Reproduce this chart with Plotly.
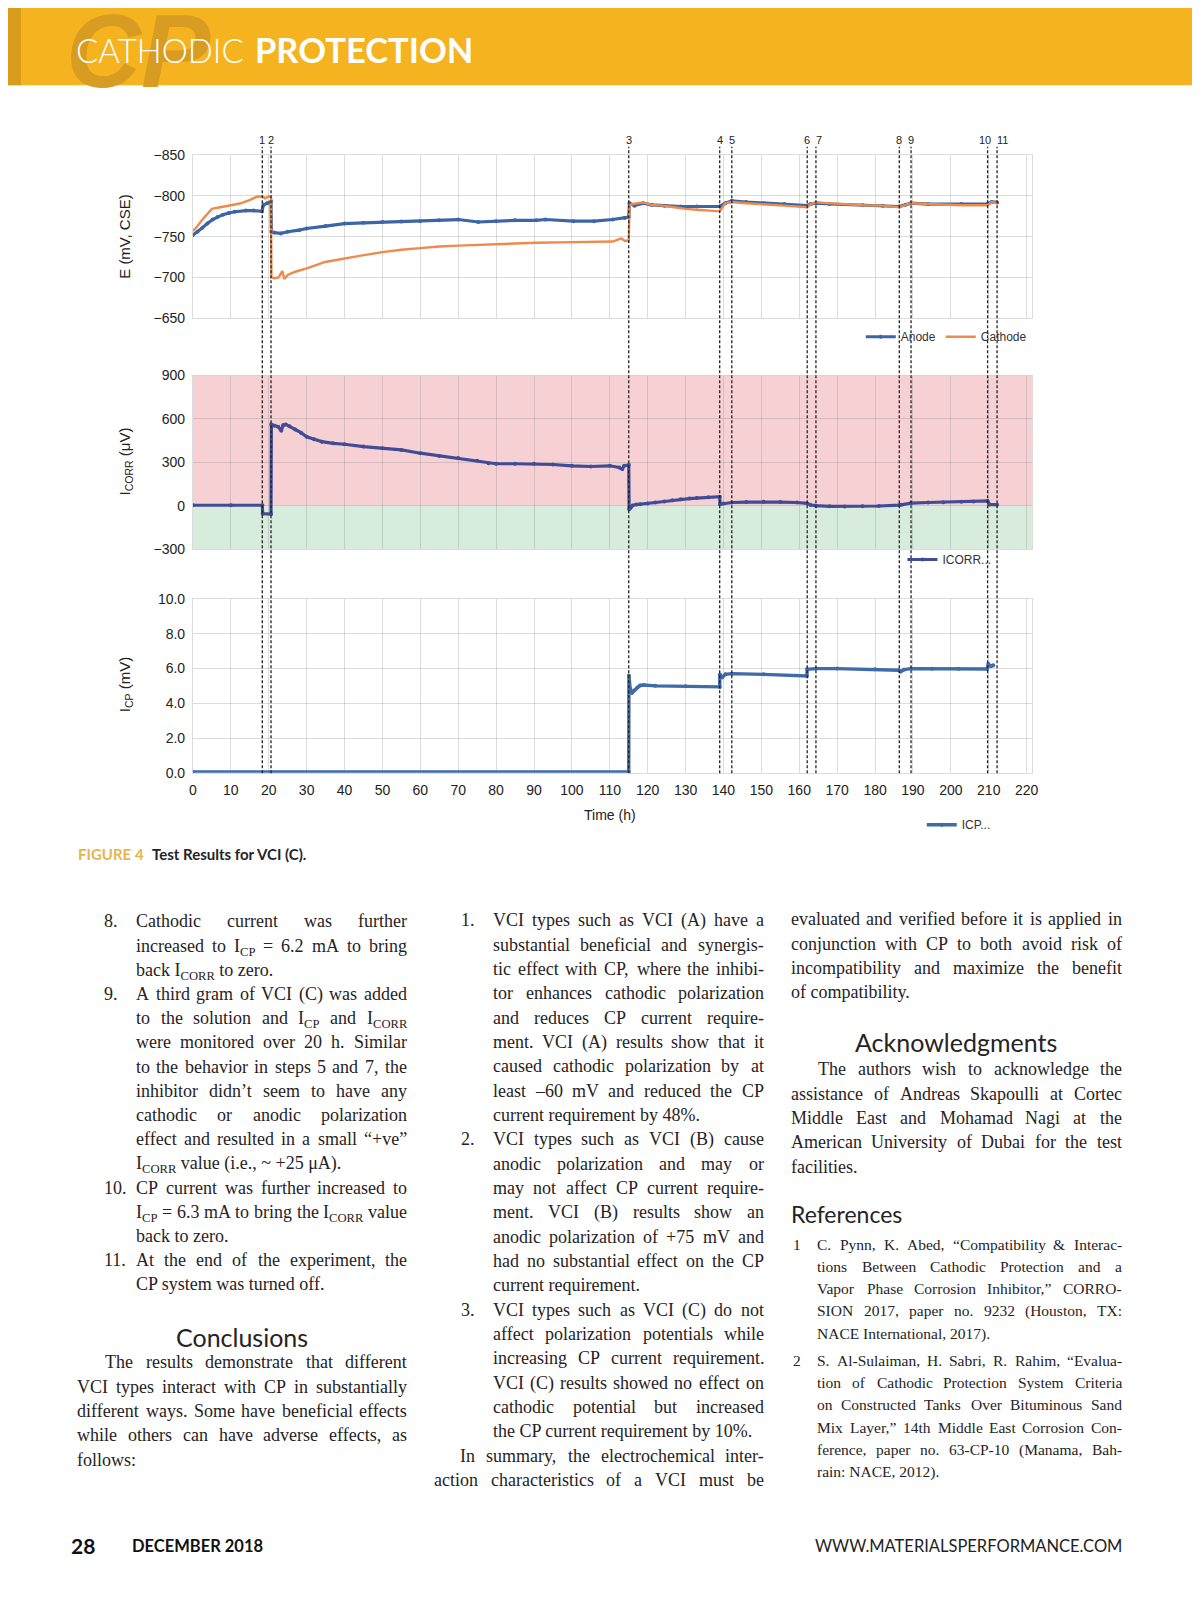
import plotly.graph_objects as go

# Page is 1200x1606; the browser adds an 8px body margin on every side,
# so the figure itself is 1184x1590 and all page coordinates are shifted by 8px.
PAGE_W, PAGE_H = 1200, 1606
OFF = 8
FW, FH = PAGE_W - 2 * OFF, PAGE_H - 2 * OFF

# ---------------- chart data ----------------
EVENT_T = [18.3, 20.6, 115.0, 139.0, 142.2, 162.1, 164.4, 186.4, 189.5, 209.7, 212.2]
EVENT_LABELS = ["1", "2", "3", "4", "5", "6", "7", "8", "9", "10", "11"]

T_ANODE = [0, 1.2, 2.5, 3.8, 5.2, 6.5, 7.9, 9.5, 11, 14, 16, 18.2, 18.6, 19.6, 20.6, 20.7, 21.4, 23.2, 25, 28,
           30, 35, 40, 45, 50, 55, 60, 65, 70, 75.3, 80, 85, 90.6, 93, 100.4, 105.8, 110.8, 113.9, 115.0, 115.2,
           116.5, 118.8, 121, 124.4, 128.7, 133, 139.0, 140.5, 142.2, 146, 150.6, 156, 162.1, 163, 164.4, 168,
           176.7, 182, 186.4, 188, 189.5, 194, 202.8, 209.7, 210.8, 212.2]
E_ANODE = [-752, -756, -761, -766, -771, -774, -777, -779, -780.5, -782, -782, -781, -789, -791, -793, -756, -755,
           -754, -756, -758, -760, -763, -766, -767, -768, -768.5, -769, -770, -771, -768, -769, -770, -770, -771,
           -769, -769, -771, -773, -774, -791, -788, -791, -789, -788, -787, -787, -787, -791, -794, -792.5, -791,
           -790, -788, -790, -791, -790, -788.5, -788, -787, -789, -791, -790, -790, -790, -792.5, -792]

T_CATHODE = [0, 1.2, 2.5, 3.8, 5, 6.5, 7.9, 10, 12.4, 15.1, 16.9, 18.3, 19, 19.8, 20.6, 20.7, 21.5, 22.6, 23.6,
             24.1, 25, 27, 30, 34.9, 40, 44.7, 50, 55, 60, 65, 70, 80, 90.6, 100.4, 110.8, 113, 113.9, 115.0,
             115.2, 116, 118.8, 121, 124, 127, 130, 133, 136, 139.0, 140.5, 142.2, 146, 150.6, 156, 162.1, 163,
             164.4, 168, 176.7, 182, 186.4, 188, 189.5, 194, 202.8, 209.7, 210.8, 212.2]
E_CATHODE = [-757, -763, -771, -778, -784, -785.5, -786.6, -788.5, -790.6, -795, -799, -799.5, -797, -799, -799.5,
             -700, -699, -700, -708, -698, -703, -707, -711, -719, -723.5, -727, -731, -734, -736, -738, -739,
             -741, -742.5, -743.3, -744, -748, -745, -745, -788, -790, -792, -789, -788, -786, -784, -783, -782,
             -781, -791, -792.5, -791, -790, -788, -786, -790, -792, -791, -788.5, -788, -786, -789, -791, -790,
             -788.5, -788.5, -792.5, -791]

T_ICORR = [0, 10, 18.3, 18.4, 20.6, 20.7, 21.5, 22.5, 23.3, 23.8, 24.5, 25.5, 27, 28.5, 30, 32, 34, 37, 40, 45,
           50, 55, 60, 65, 70, 75, 78, 80, 85, 90, 95, 100, 105, 110, 112.5, 113.3, 113.8, 115.0, 115.1, 115.5,
           116, 117, 118, 120, 122, 124.4, 126.5, 128.7, 131, 133, 136, 139.0, 139.1, 140, 142.2, 146, 150.6, 155,
           159.4, 162.1, 163, 164.4, 168, 172, 176.7, 181, 186.4, 187, 189.5, 194, 198, 202.8, 206, 209.7, 210.2,
           212.2]
V_ICORR = [3, 3, 3, -55, -58, 562, 553, 546, 518, 557, 562, 550, 527, 505, 477, 459, 443, 431, 425, 409,
           397, 386, 363, 344, 329, 310, 294, 290, 290, 290, 285, 276, 271, 276, 264, 253, 276, 281, -25, -15,
           2, 8, 10, 15, 22, 29, 37, 44, 49, 53, 58, 62, 10, 15, 22, 25, 27, 25, 22, 16,
           5, 0, -4, -5, -4, -2, 4, 6, 18, 22, 24, 27, 29, 33, 8, 7]

T_ICP = [0, 115.0, 115.05, 115.4, 115.9, 116.5, 117.3, 118, 119, 122, 130, 139.0, 139.05, 139.7, 140.5, 142.2,
         150.6, 162.0, 162.1, 164.4, 170, 180, 186.2, 186.8, 187.6, 189.5, 195, 202, 209.6, 209.9, 210.6, 211.2]
V_ICP = [0.05, 0.05, 5.6, 4.8, 4.6, 4.75, 4.9, 5.02, 5.05, 5.0, 4.97, 4.94, 5.65, 5.5, 5.66, 5.7,
         5.66, 5.57, 5.95, 5.99, 5.99, 5.96, 5.9, 5.82, 5.93, 5.99, 5.98, 5.98, 5.97, 6.25, 6.12, 6.18]

X_TICKS = list(range(0, 221, 10))
E_TICKS = [-850, -800, -750, -700, -650]
ICORR_TICKS = [900, 600, 300, 0, -300]
ICP_TICKS = [10, 8, 6, 4, 2, 0]
BAND_POS = [0, 900]
BAND_NEG = [-300, 0]

# ---------------- page text ----------------
HEADER_LIGHT = "CATHODIC"
HEADER_BOLD = "PROTECTION"
HEADER_MARK = "CP"
CAPTION_LABEL = "FIGURE 4"
CAPTION_TEXT = "Test Results for VCI (C)."

COL1_ITEMS = [
    ("8.", ["Cathodic current was further",
            "increased to I<sub>CP</sub> = 6.2 mA to bring",
            "back I<sub>CORR</sub> to zero."]),
    ("9.", ["A third gram of VCI (C) was added",
            "to the solution and I<sub>CP</sub> and I<sub>CORR</sub>",
            "were monitored over 20 h. Similar",
            "to the behavior in steps 5 and 7, the",
            "inhibitor didn’t seem to have any",
            "cathodic or anodic polarization",
            "effect and resulted in a small “+ve”",
            "I<sub>CORR</sub> value (i.e., ~ +25 μA)."]),
    ("10.", ["CP current was further increased to",
             "I<sub>CP</sub> = 6.3 mA to bring the I<sub>CORR</sub> value",
             "back to zero."]),
    ("11.", ["At the end of the experiment, the",
             "CP system was turned off."]),
]
CONCLUSIONS_TITLE = "Conclusions"
CONCLUSIONS_PARA = ["The results demonstrate that different",
                    "VCI types interact with CP in substantially",
                    "different ways. Some have beneficial effects",
                    "while others can have adverse effects, as",
                    "follows:"]
COL2_ITEMS = [
    ("1.", ["VCI types such as VCI (A) have a",
            "substantial beneficial and synergis-",
            "tic effect with CP, where the inhibi-",
            "tor enhances cathodic polarization",
            "and reduces CP current require-",
            "ment. VCI (A) results show that it",
            "caused cathodic polarization by at",
            "least –60 mV and reduced the CP",
            "current requirement by 48%."]),
    ("2.", ["VCI types such as VCI (B) cause",
            "anodic polarization and may or",
            "may not affect CP current require-",
            "ment. VCI (B) results show an",
            "anodic polarization of +75 mV and",
            "had no substantial effect on the CP",
            "current requirement."]),
    ("3.", ["VCI types such as VCI (C) do not",
            "affect polarization potentials while",
            "increasing CP current requirement.",
            "VCI (C) results showed no effect on",
            "cathodic potential but increased",
            "the CP current requirement by 10%."]),
]
SUMMARY_COL2 = ["In summary, the electrochemical inter-",
                "action characteristics of a VCI must be"]
SUMMARY_COL3 = ["evaluated and verified before it is applied in",
                "conjunction with CP to both avoid risk of",
                "incompatibility and maximize the benefit",
                "of compatibility."]
ACK_TITLE = "Acknowledgments"
ACK_PARA = ["The authors wish to acknowledge the",
            "assistance of Andreas Skapoulli at Cortec",
            "Middle East and Mohamad Nagi at the",
            "American University of Dubai for the test",
            "facilities."]
REF_TITLE = "References"
REFS = [
    ("1", ["C. Pynn, K. Abed, “Compatibility & Interac-",
           "tions Between Cathodic Protection and a",
           "Vapor Phase Corrosion Inhibitor,” CORRO-",
           "SION 2017, paper no. 9232 (Houston, TX:",
           "NACE International, 2017)."]),
    ("2", ["S. Al-Sulaiman, H. Sabri, R. Rahim, “Evalua-",
           "tion of Cathodic Protection System Criteria",
           "on Constructed Tanks Over Bituminous Sand",
           "Mix Layer,” 14th Middle East Corrosion Con-",
           "ference, paper no. 63-CP-10 (Manama, Bah-",
           "rain: NACE, 2012)."]),
]
FOOT_PAGE = "28"
FOOT_DATE = "DECEMBER 2018"
FOOT_URL = "WWW.MATERIALSPERFORMANCE.COM"

# ---------------- helpers ----------------
def fx(px):
    return (px - OFF) / FW


def fy(py):
    return 1 - (py - OFF) / FH


SERIF = "Liberation Serif, Times New Roman, serif"
SANS = "Lato, Open Sans, sans-serif"
CSANS = "Liberation Sans, Arial, sans-serif"
INK = "#262324"

TW = {' ': 250, '.': 250, ',': 250, ':': 278, ';': 278, '-': 333, '–': 500, '(': 333, ')': 333,
      '“': 444, '”': 444, '’': 333, '%': 833, '=': 564, '+': 564, '~': 541, 'μ': 500, '&': 778,
      'A': 722, 'B': 667, 'C': 667, 'D': 722, 'E': 611, 'F': 556, 'G': 722, 'H': 722, 'I': 333,
      'J': 389, 'K': 722, 'L': 611, 'M': 889, 'N': 722, 'O': 722, 'P': 556, 'Q': 722, 'R': 667,
      'S': 556, 'T': 611, 'U': 722, 'V': 722, 'W': 944, 'X': 722, 'Y': 722, 'Z': 611,
      'a': 444, 'b': 500, 'c': 444, 'd': 500, 'e': 444, 'f': 333, 'g': 500, 'h': 500, 'i': 278,
      'j': 278, 'k': 500, 'l': 278, 'm': 778, 'n': 500, 'o': 500, 'p': 500, 'q': 500, 'r': 333,
      's': 389, 't': 278, 'u': 500, 'v': 500, 'w': 722, 'x': 500, 'y': 500, 'z': 444}


def text_width(s, size):
    total, scale, i = 0.0, 1.0, 0
    while i < len(s):
        if s.startswith('<sub>', i):
            scale = 0.7
            i += 5
            continue
        if s.startswith('</sub>', i):
            scale = 1.0
            i += 6
            continue
        total += TW.get(s[i], 500) * scale
        i += 1
    return total * size / 1000.0


annotations = []


def put(text, xpx, ypx, size, family=SERIF, color=INK, xanchor="left", yanchor="middle", weight=None, **kw):
    f = dict(family=family, size=size, color=color)
    if weight is not None:
        f["weight"] = weight
    d = dict(text=text, x=fx(xpx), y=fy(ypx), xref="paper", yref="paper", showarrow=False,
             xanchor=xanchor, yanchor=yanchor, font=f, borderpad=0, borderwidth=0)
    d.update(kw)
    annotations.append(d)


def body_line(text, x_left, x_right, yc, size, justify):
    top = yc + 0.33 * size - 0.891 * size
    if not justify:
        put(text, x_left, top, size, yanchor="top")
        return
    words = text.split(' ')
    widths = [text_width(w, size) for w in words]
    if len(words) > 1:
        gap = (x_right - x_left - sum(widths)) / (len(words) - 1)
        gap = max(gap, 0.2 * size)
    else:
        gap = 0
    x = x_left
    for w, wd in zip(words, widths):
        put(w, x, top, size, yanchor="top")
        x += wd + gap


def numbered(items, col_left, col_right, num_dx, text_dx, y0, step, size, start=0):
    k = start
    for num, lines in items:
        yc = y0 + k * step
        put(num, col_left + num_dx, yc + 0.33 * size - 0.891 * size, size, yanchor="top")
        for j, ln in enumerate(lines):
            yc = y0 + k * step
            body_line(ln, col_left + text_dx, col_right, yc, size, j < len(lines) - 1)
            k += 1
    return k


def paragraph(lines, col_left, col_right, indent, y0, step, size, last_justified=False, start=0):
    k = start
    for j, ln in enumerate(lines):
        yc = y0 + k * step
        left = col_left + (indent if j == 0 else 0)
        just = (j < len(lines) - 1) or last_justified
        body_line(ln, left, col_right, yc, size, just)
        k += 1
    return k


# ---------------- figure ----------------
ANODE_C = "#3d65a6"
CATHODE_C = "#ec8b4c"
ICORR_C = "#404d96"
ICP_C = "#3f6bab"
GRID = "rgba(140,140,140,0.30)"

fig = go.Figure()
fig.add_trace(go.Scatter(x=T_ANODE, y=E_ANODE, name="Anode", mode="lines+markers",
                         line=dict(color=ANODE_C, width=3.2), marker=dict(size=4, color=ANODE_C),
                         xaxis="x", yaxis="y", legend="legend"))
fig.add_trace(go.Scatter(x=T_CATHODE, y=E_CATHODE, name="Cathode", mode="lines",
                         line=dict(color=CATHODE_C, width=2.4),
                         xaxis="x", yaxis="y", legend="legend"))
fig.add_trace(go.Scatter(x=T_ICORR, y=V_ICORR, name="ICORR...", mode="lines+markers",
                         line=dict(color=ICORR_C, width=3.2), marker=dict(size=4, color=ICORR_C),
                         xaxis="x2", yaxis="y2", legend="legend2"))
fig.add_trace(go.Scatter(x=T_ICP, y=V_ICP, name="ICP...", mode="lines+markers",
                         line=dict(color=ICP_C, width=3.4), marker=dict(size=4, color=ICP_C),
                         xaxis="x3", yaxis="y3", legend="legend3"))

XDOM = [fx(190.5), fx(1037)]
XR = [0, 221.5]
tickfont = dict(family=CSANS, size=14, color="#222")
axbase = dict(showgrid=True, gridcolor=GRID, gridwidth=1, zeroline=False, showline=True, mirror=True,
              linecolor=GRID, linewidth=1, ticks="", tickfont=tickfont)
legfont = dict(family=CSANS, size=12, color="#333")

fig.update_layout(
    width=FW, height=FH, margin=dict(l=0, r=0, t=0, b=0),
    paper_bgcolor="white", plot_bgcolor="rgba(0,0,0,0)",
    xaxis=dict(axbase, domain=XDOM, range=XR, tickvals=X_TICKS, showticklabels=False, anchor="y"),
    xaxis2=dict(axbase, domain=XDOM, range=XR, tickvals=X_TICKS, showticklabels=False, anchor="y2"),
    xaxis3=dict(axbase, domain=XDOM, range=XR, tickvals=X_TICKS, anchor="y3", ticklabelstandoff=4),
    yaxis=dict(axbase, domain=[fy(313.3), fy(148.5)], range=[-650, -850], tickvals=E_TICKS,
               anchor="x", ticklabelstandoff=4),
    yaxis2=dict(axbase, domain=[fy(546.5), fy(371.2)], range=[-300, 900], tickvals=ICORR_TICKS,
                anchor="x2", ticklabelstandoff=4),
    yaxis3=dict(axbase, domain=[fy(772.5), fy(596.8)], range=[0, 10], tickvals=ICP_TICKS,
                tickformat=".1f", anchor="x3", ticklabelstandoff=4),
    showlegend=True,
    legend=dict(x=fx(864), y=fy(332), xanchor="left", yanchor="middle", orientation="h",
                bgcolor="rgba(0,0,0,0)", font=legfont, itemwidth=30),
    legend2=dict(x=fx(906), y=fy(557), xanchor="left", yanchor="middle", orientation="h",
                 bgcolor="rgba(0,0,0,0)", font=legfont, itemwidth=30),
    legend3=dict(x=fx(925.5), y=fy(825), xanchor="left", yanchor="middle", orientation="h",
                 bgcolor="rgba(0,0,0,0)", font=legfont, itemwidth=30),
)

shapes = []
# header bar
shapes.append(dict(type="rect", xref="paper", yref="paper", x0=fx(0), x1=fx(PAGE_W), y0=fy(78), y1=fy(0),
                   fillcolor="#f5b31f", line=dict(width=0), layer="below"))
shapes.append(dict(type="rect", xref="paper", yref="paper", x0=fx(0), x1=fx(17), y0=fy(78), y1=fy(0),
                   fillcolor="#d99c1a", line=dict(width=0), layer="below"))
# ICORR bands
shapes.append(dict(type="rect", xref="x2", yref="y2", x0=XR[0], x1=XR[1], y0=BAND_POS[0], y1=BAND_POS[1],
                   fillcolor="#f7d0d4", line=dict(width=0), layer="below"))
shapes.append(dict(type="rect", xref="x2", yref="y2", x0=XR[0], x1=XR[1], y0=BAND_NEG[0], y1=BAND_NEG[1],
                   fillcolor="#d7ecdd", line=dict(width=0), layer="below"))
# event lines
for t in EVENT_T:
    shapes.append(dict(type="line", xref="x3", yref="paper", x0=t, x1=t, y0=fy(773), y1=fy(140),
                       line=dict(color="#222", width=1.3, dash="3px,2px"), layer="above"))
fig.update_layout(shapes=shapes)

# header texts
put("<b><i>" + HEADER_MARK + "</i></b>", 136, 43, 104, family="Liberation Sans, Arial", color="#d89c22",
    xanchor="center")
put(HEADER_LIGHT, 73, 42, 33, family=SANS, color="white", weight=300)
put(HEADER_BOLD, 253, 42, 34.5, family=SANS, color="white", weight=700)

# event labels
LABEL_SHIFT = [0, 0, 0, 0, 0, 0, 3, 0, 0, -3, 5]
for t, lab, dx in zip(EVENT_T, EVENT_LABELS, LABEL_SHIFT):
    annotations.append(dict(text=lab, x=t, xref="x3", y=fy(133), yref="paper", showarrow=False,
                            xanchor="center", yanchor="middle", xshift=dx,
                            font=dict(family=CSANS, size=11, color="#222")))

# axis titles
put("E (mV, CSE)", 122, 231, 15, family=CSANS, color="#222", xanchor="center", textangle=-90)
put("I<sub>CORR</sub> (μV)", 122, 458, 15, family=CSANS, color="#222", xanchor="center", textangle=-90)
put("I<sub>CP</sub> (mV)", 122, 684, 15, family=CSANS, color="#222", xanchor="center", textangle=-90)
put("Time (h)", 611, 815, 14, family=CSANS, color="#222", xanchor="center")

# caption
put(CAPTION_LABEL, 75, 855, 15, family=SANS, color="#e8b548", weight=700)
put(CAPTION_TEXT, 149, 855, 15, family=SANS, color=INK, weight=700)

# body columns
BODY = 18
C1L, C1R = 74, 406
C2L, C2R = 434, 766
C3L, C3R = 794, 1127

numbered(COL1_ITEMS, C1L, C1R, 27, 59, 922.6, 24.45, BODY)
put(CONCLUSIONS_TITLE, 240, 1342, 25, family=SANS, color=INK, xanchor="center", weight=400)
paragraph(CONCLUSIONS_PARA, C1L, C1R, 28, 1368, 24.6, BODY)

k = numbered(COL2_ITEMS, C2L, C2R, 27, 59, 921.6, 24.58, BODY)
paragraph(SUMMARY_COL2, C2L, C2R, 26, 921.6, 24.58, BODY, last_justified=True, start=k)

paragraph(SUMMARY_COL3, C3L, C3R, 0, 920.6, 24.58, BODY)
put(ACK_TITLE, 960, 1044.5, 25, family=SANS, color=INK, xanchor="center", weight=400)
paragraph(ACK_PARA, C3L, C3R, 27, 1072, 24.58, BODY)
put(REF_TITLE, 794, 1218.5, 23, family=SANS, color=INK, weight=400)
REFSIZE = 15.5
numbered(REFS[:1], C3L, C3R, 2, 26, 1249, 22.4, REFSIZE)
numbered(REFS[1:], C3L, C3R, 2, 26, 1366, 22.5, REFSIZE)

# footer
put(FOOT_PAGE, 68, 1553, 21, family=SANS, color="#111", weight=700)
put(FOOT_DATE, 129, 1554, 16.5, family=SANS, color="#111", weight=700)
put(FOOT_URL, 1127, 1554, 16.5, family=SANS, color="#222", xanchor="right", weight=400)

fig.update_layout(annotations=annotations)

fig.write_html("out.html", config={"displayModeBar": False})
